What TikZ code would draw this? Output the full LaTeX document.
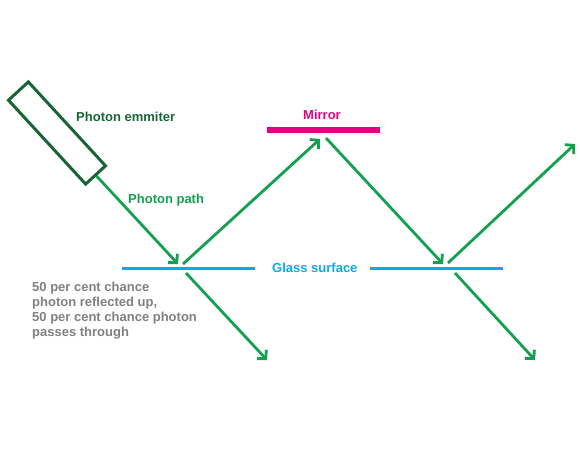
\documentclass[tikz,border=0pt]{standalone}
\usepackage{fontspec}
\setmainfont{Liberation Sans}
\usetikzlibrary{arrows.meta}
\definecolor{arrowgreen}{RGB}{20,160,80}
\definecolor{darkgreen}{RGB}{25,100,55}
\definecolor{mirrorpink}{RGB}{228,0,126}
\definecolor{glassblue}{RGB}{10,170,230}
\definecolor{notegray}{RGB}{128,128,128}
\tikzset{
  photon/.style={draw=arrowgreen, line width=2.8pt, -{Straight Barb[length=6pt,width=13pt,line width=2.8pt]}},
  lbl/.style={font=\fontsize{13}{15}\selectfont\bfseries, inner sep=0pt},
  glass/.style={draw=glassblue, line width=3pt},
  mirror/.style={draw=mirrorpink, line width=6pt},
}
\begin{document}
\begin{tikzpicture}[x=1pt,y=-1pt]
\useasboundingbox (0,0) rectangle (580,449);
% emitter
\node[draw=darkgreen, line width=3pt, minimum width=114pt, minimum height=27pt, rotate=-47.4, inner sep=0pt] (emitter) at (57,133) {};
% surfaces
\coordinate (g1a) at (122,268);
\coordinate (g1b) at (255,268);
\coordinate (g2a) at (370,268);
\coordinate (g2b) at (503,268);
\coordinate (ma) at (267,130);
\coordinate (mb) at (380,130);
\draw[glass] (g1a) -- (g1b);
\draw[glass] (g2a) -- (g2b);
\draw[mirror] (ma) -- (mb);
% arrow endpoints
\coordinate (p1) at (178,264);
\coordinate (p2s) at (183,264);
\coordinate (p2) at (320,139);
\coordinate (p3s) at (326,138);
\coordinate (p3) at (443,264);
\coordinate (p4s) at (448,263);
\coordinate (p4) at (575,144);
\coordinate (p5s) at (186,273);
\coordinate (p5) at (267,360);
\coordinate (p6s) at (455,273);
\coordinate (p6) at (535,360);
\draw[photon] (emitter.east) -- (p1);
\draw[photon] (p2s) -- (p2);
\draw[photon] (p3s) -- (p3);
\draw[photon] (p4s) -- (p4);
\draw[photon] (p5s) -- (p5);
\draw[photon] (p6s) -- (p6);
% labels
\node[lbl, text=darkgreen, anchor=west] (lemit) at (76,117) {Photon emmiter};
\node[lbl, text=arrowgreen, anchor=west] (lpath) at (128,200) {Photon path};
\node[lbl, text=mirrorpink] (lmirror) at (322,115) {Mirror};
\node[lbl, text=glassblue, anchor=west] (lglass) at (272,268) {Glass surface};
\node[lbl, text=notegray, anchor=north west, align=left] (lnote) at (32,282) {50 per cent chance\\photon reflected up,\\50 per cent chance photon\\passes through};
\end{tikzpicture}
\end{document}
